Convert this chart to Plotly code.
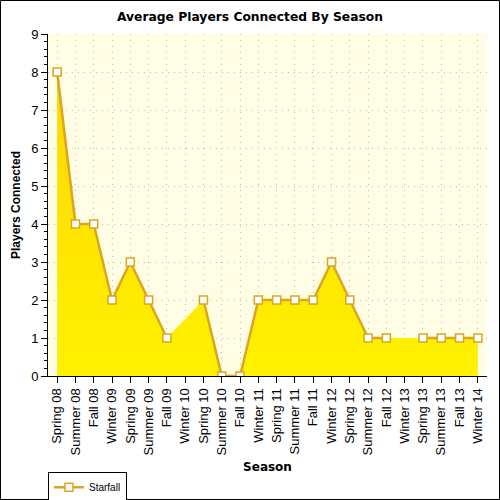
import plotly.graph_objects as go

# Data
seasons = [
    'Spring 08', 'Summer 08', 'Fall 08', 'Winter 09', 'Spring 09', 'Summer 09',
    'Fall 09', 'Winter 10', 'Spring 10', 'Summer 10', 'Fall 10', 'Winter 11',
    'Spring 11', 'Summer 11', 'Fall 11', 'Winter 12', 'Spring 12', 'Summer 12',
    'Fall 12', 'Winter 13', 'Spring 13', 'Summer 13', 'Fall 13', 'Winter 14',
]
players = [8, 4, 4, 2, 3, 2, 1, None, 2, 0, 0, 2,
           2, 2, 2, 3, 2, 1, 1, None, 1, 1, 1, 1]
series_name = 'Starfall'
y_ticks = list(range(0, 10))

W, H = 500, 500
M = dict(l=48, r=13, t=34, b=124, autoexpand=False)
plot_w = W - M['l'] - M['r']
plot_h = H - M['t'] - M['b']

LINE = '#DAA520'
GRID = '#BDBDBD'
GRID_DASH = '1px,5px'
FONT = 'Liberation Sans, Arial, sans-serif'
TITLE_FONT = 'DejaVu Sans, Verdana, sans-serif'

fig = go.Figure()

# Filled area (connects across missing seasons)
fig.add_trace(go.Scatter(
    x=seasons, y=players,
    mode='none',
    fill='tozeroy',
    connectgaps=True,
    fillgradient=dict(
        type='vertical',
        colorscale=[[0, '#FFF200'], [1, '#FFD600']],
    ),
    showlegend=False,
    hoverinfo='skip',
))

# Line with markers (breaks at missing seasons)
fig.add_trace(go.Scatter(
    x=seasons, y=players,
    mode='lines+markers',
    name=series_name,
    connectgaps=False,
    line=dict(color=LINE, width=2.5),
    marker=dict(symbol='square', size=8, color='white',
                line=dict(color=LINE, width=1.5)),
))

fig.update_layout(
    width=W, height=H,
    margin=M,
    paper_bgcolor='white',
    plot_bgcolor='#FFFDE4',
    title=dict(
        text='<b>Average Players Connected By Season</b>',
        x=0.5, xanchor='center', y=0.966, yanchor='middle',
        font=dict(family=TITLE_FONT, size=12.3, color='black'),
    ),
    xaxis=dict(
        type='category',
        range=[-0.5, len(seasons) - 0.5],
        automargin=False,
        tickangle=-90,
        tickfont=dict(family=FONT, size=13, color='black'),
        ticks='outside', ticklen=6, tickcolor='black',
        showline=True, linecolor='black', linewidth=1,
        showgrid=True, gridcolor=GRID, griddash=GRID_DASH, gridwidth=1,
        zeroline=False,
        title=dict(text='<b>Season</b>', standoff=8,
                   font=dict(family=TITLE_FONT, size=12, color='black')),
    ),
    # top edge: inside ticks only
    xaxis2=dict(
        overlaying='x', side='top',
        range=[-0.5, len(seasons) - 0.5],
        tickvals=list(range(len(seasons))),
        showticklabels=False,
        ticks='inside', ticklen=5, tickcolor='black',
        showline=False, showgrid=False, zeroline=False,
    ),
    yaxis=dict(
        range=[0, 9],
        tickvals=y_ticks,
        automargin=False,
        tickfont=dict(family=FONT, size=13, color='black'),
        ticks='outside', ticklen=6, tickcolor='black',
        minor=dict(dtick=0.2, ticks='outside', ticklen=3, tickcolor='black',
                   showgrid=False),
        showline=True, linecolor='black', linewidth=1,
        showgrid=True, gridcolor=GRID, griddash=GRID_DASH, gridwidth=1,
        zeroline=False,
        title=dict(text='<b>Players Connected</b>', standoff=7,
                   font=dict(family=FONT, size=12, color='black')),
    ),
    # right edge: inside ticks only
    yaxis2=dict(
        overlaying='y', side='right',
        range=[0, 9],
        tickvals=y_ticks,
        showticklabels=False,
        ticks='inside', ticklen=5, tickcolor='black',
        minor=dict(dtick=0.2, ticks='inside', ticklen=3, tickcolor='black',
                   showgrid=False),
        showline=False, showgrid=False, zeroline=False,
    ),
    legend=dict(
        x=0, y=-0.28, xanchor='left', yanchor='top',
        bordercolor='black', borderwidth=1, bgcolor='white',
        font=dict(family=FONT, size=10, color='black'),
        itemwidth=30, tracegroupgap=0,
    ),
    showlegend=True,
)

# Black frame around the whole image
fig.add_shape(
    type='rect', xref='paper', yref='paper',
    x0=-M['l'] / plot_w + 0.5 / plot_w,
    x1=1 + (M['r'] - 0.5) / plot_w,
    y0=-(M['b'] - 0.5) / plot_h,
    y1=1 + (M['t'] - 0.5) / plot_h,
    line=dict(color='black', width=1),
    layer='above',
)

# drop the default page margin so the 500x500 figure fills the window
fig.write_html(
    'out.html',
    config={'displayModeBar': False},
    post_script="document.body.style.margin='0';document.body.style.overflow='hidden';",
)
